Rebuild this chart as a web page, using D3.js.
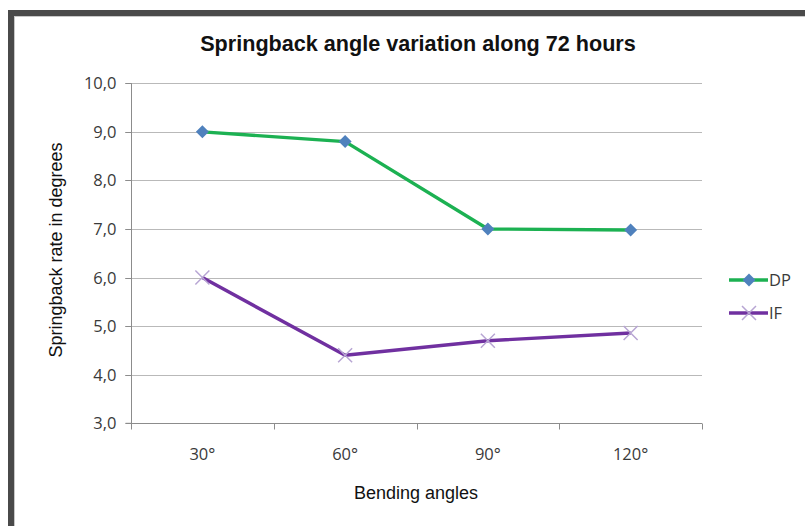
<!DOCTYPE html>
<html><head><meta charset="utf-8">
<script src="https://cdn.jsdelivr.net/npm/d3@7"></script>
<style>html,body{margin:0;padding:0;background:#fff;overflow:hidden}</style>
</head><body>
<script>
const categories = ["30°", "60°", "90°", "120°"];
const dpValues = [9.0, 8.8, 7.0, 6.98];
const ifValues = [6.0, 4.4, 4.7, 4.86];
const yTicks = [3, 4, 5, 6, 7, 8, 9, 10];
const seriesNames = ["DP", "IF"];

(function () {
const W = 805, H = 526;
const svg = d3.select("body").append("svg").attr("width", W).attr("height", H);

// frame
svg.append("rect").attr("x", 8).attr("y", 10).attr("width", W).attr("height", 6).attr("fill", "#4a4a4a");
svg.append("rect").attr("x", 8).attr("y", 10).attr("width", 6).attr("height", H).attr("fill", "#4a4a4a");
svg.append("line").attr("x1", 14.5).attr("x2", 14.5).attr("y1", 16).attr("y2", H).attr("stroke", "#c8c8c8");
svg.append("line").attr("x1", 14).attr("x2", W).attr("y1", 16.5).attr("y2", 16.5).attr("stroke", "#c8c8c8");

const pLeft = 131, pRight = 702, pTop = 83.3, pBottom = 423.3;
const x = d3.scaleBand().domain(categories).range([pLeft, pRight]);
const y = d3.scaleLinear().domain([3, 10]).range([pBottom, pTop]);
const tickFont = "'Open Sans', sans-serif";

// gridlines
svg.append("g").selectAll("line").data(yTicks.filter(d => d > 3)).join("line")
  .attr("x1", pLeft - 6).attr("x2", pRight)
  .attr("y1", d => Math.round(y(d)) + 0.5).attr("y2", d => Math.round(y(d)) + 0.5)
  .attr("stroke", "#b9b9b9").attr("stroke-width", 1);

// y axis
const yAxis = svg.append("g").attr("transform", `translate(${pLeft + 0.5},0)`)
  .call(d3.axisLeft(y).tickValues(yTicks).tickSize(6).tickPadding(9)
    .tickFormat(d => d3.format(".1f")(d).replace(".", ",")));
yAxis.select(".domain").attr("stroke", "#8c8c8c").attr("d", `M-6,${pBottom}H0V${pTop}`);
yAxis.selectAll(".tick line").attr("stroke", "#8c8c8c");
yAxis.selectAll(".tick text").attr("fill", "#3a3a3a").style("font-family", tickFont).style("font-size", "16.5px");
yAxis.selectAll(".tick").attr("transform", d => `translate(0,${Math.round(y(d)) + 0.5})`);

// x axis
const xAxis = svg.append("g").attr("transform", `translate(0,${Math.round(pBottom) + 0.5})`);
xAxis.append("line").attr("x1", pLeft).attr("x2", pRight).attr("stroke", "#8c8c8c");
const bounds = categories.map(c => x(c)).concat([x(categories[categories.length - 1]) + x.bandwidth()]);
xAxis.selectAll("line.tk").data(bounds).join("line").attr("class", "tk")
  .attr("x1", d => Math.round(d) + 0.5).attr("x2", d => Math.round(d) + 0.5)
  .attr("y1", 0).attr("y2", 6).attr("stroke", "#8c8c8c");
xAxis.selectAll("text").data(categories).join("text")
  .attr("x", d => x(d) + x.bandwidth() / 2).attr("y", 36)
  .attr("text-anchor", "middle").attr("fill", "#3a3a3a")
  .style("font-family", tickFont).style("font-size", "16.5px").text(d => d);

// lines
const cx = d => x(d) + x.bandwidth() / 2;
const line = d3.line().x(d => cx(d[0])).y(d => y(d[1]));
const dpData = categories.map((c, i) => [c, dpValues[i]]);
const ifData = categories.map((c, i) => [c, ifValues[i]]);

svg.append("path").datum(dpData).attr("d", line).attr("fill", "none")
  .attr("stroke", "#1cb152").attr("stroke-width", 3.4).attr("stroke-linejoin", "round");
svg.append("path").datum(ifData).attr("d", line).attr("fill", "none")
  .attr("stroke", "#7030a0").attr("stroke-width", 3.4).attr("stroke-linejoin", "round");

function diamond(g, px, py, s) {
  g.append("path").attr("d", `M${px},${py - s}L${px + s},${py}L${px},${py + s}L${px - s},${py}Z`)
    .attr("fill", "#4f81bd");
}
function cross(g, px, py, s) {
  g.append("path").attr("d", `M${px - s},${py - s}L${px + s},${py + s}M${px - s},${py + s}L${px + s},${py - s}`)
    .attr("stroke", "#b7a5d3").attr("stroke-width", 1.5).attr("fill", "none");
}
const dpMarks = svg.append("g");
dpData.forEach(d => diamond(dpMarks, cx(d[0]), y(d[1]), 6.5));
const ifMarks = svg.append("g");
ifData.forEach(d => cross(ifMarks, cx(d[0]), y(d[1]), 7));

// legend
const leg = svg.append("g");
const legY = [280, 313];
seriesNames.forEach((n, i) => {
  const ly = legY[i];
  leg.append("line").attr("x1", 729).attr("x2", 768).attr("y1", ly).attr("y2", ly)
    .attr("stroke", i === 0 ? "#1cb152" : "#7030a0").attr("stroke-width", 3.4);
  if (i === 0) diamond(leg, 749, ly, 6.5); else cross(leg, 749, ly, 7);
  leg.append("text").attr("x", 769).attr("y", ly + 6).attr("fill", "#3a3a3a")
    .style("font-family", tickFont).style("font-size", "16.5px").text(n);
});

// titles
svg.append("text").attr("x", 418).attr("y", 51).attr("text-anchor", "middle")
  .style("font-family", "'Liberation Sans', Arial, sans-serif").style("font-size", "21.6px").style("font-weight", "bold")
  .attr("fill", "#111").text("Springback angle variation along 72 hours");
svg.append("text").attr("x", 416).attr("y", 499).attr("text-anchor", "middle")
  .style("font-family", "'Liberation Sans', Arial, sans-serif").style("font-size", "18px")
  .attr("fill", "#111").text("Bending angles");
svg.append("text").attr("transform", "translate(62,250) rotate(-90)").attr("text-anchor", "middle")
  .style("font-family", "'Liberation Sans', Arial, sans-serif").style("font-size", "18px")
  .attr("fill", "#111").text("Springback rate in degrees");
})();
</script>
</body></html>
